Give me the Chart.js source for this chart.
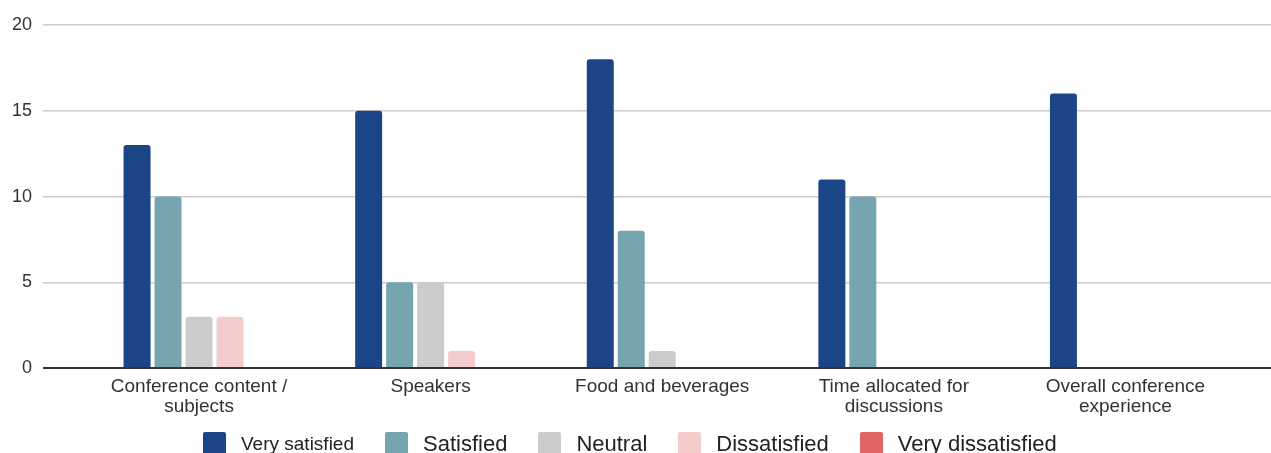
<!DOCTYPE html>
<html>
<head>
<meta charset="utf-8">
<script src="https://cdn.jsdelivr.net/npm/chart.js@4.4.1/dist/chart.umd.min.js"></script>
<style>
  html, body { margin: 0; padding: 0; background: #fff; }
  #wrap { position: relative; width: 1271px; height: 453px; overflow: hidden; }
  #legend { position: absolute; left: 203px; top: 432px; display: flex; align-items: center; height: 23px;
            font-family: "Liberation Sans", Arial, sans-serif; color: #222; white-space: nowrap; }
  .item { display: flex; align-items: center; margin-right: 31px; }
  .box { width: 23px; height: 23px; border-radius: 2px; margin-right: 15px; }
</style>
</head>
<body>
<div id="wrap">
  <canvas id="c"></canvas>
  <div id="legend"></div>
</div>
<script>
const categories = [
  ["Conference content /", "subjects"],
  ["Speakers"],
  ["Food and beverages"],
  ["Time allocated for", "discussions"],
  ["Overall conference", "experience"]
];
const seriesNames = ["Very satisfied", "Satisfied", "Neutral", "Dissatisfied", "Very dissatisfied"];
const verySatisfied    = [13, 15, 18, 11, 16];
const satisfied        = [10, 5, 8, 10, 0];
const neutral          = [3, 5, 1, 0, 0];
const dissatisfied     = [3, 1, 0, 0, 0];
const veryDissatisfied = [0, 0, 0, 0, 0];
const seriesColors = ["#1c4587", "#76a5af", "#cccccc", "#f4cccc", "#e06666"];
const yTicks = [0, 5, 10, 15, 20];
const legendFontSizes = [19, 22, 22, 22, 22];

const allSeries = [verySatisfied, satisfied, neutral, dissatisfied, veryDissatisfied];

const datasets = allSeries.map((vals, s) => ({
  label: seriesNames[s],
  data: vals.map((v, i) => ({ x: i, y: v })),
  backgroundColor: seriesColors[s],
  borderWidth: 0,
  borderRadius: { topLeft: 3, topRight: 3, bottomLeft: 0, bottomRight: 0 },
  borderSkipped: 'start',
  categoryPercentage: 0.669,
  barPercentage: 0.871
}));

const font = "'Liberation Sans', Arial, sans-serif";

new Chart(document.getElementById('c'), {
  type: 'bar',
  data: { datasets },
  options: {
    responsive: true,
    maintainAspectRatio: false,
    animation: false,
    layout: { padding: { left: 1, right: 0, top: 25, bottom: 27 } },
    plugins: { legend: { display: false }, tooltip: { enabled: false } },
    scales: {
      x: {
        type: 'linear',
        offset: false,
        min: -0.6736,
        max: 4.6286,
        grid: { display: false, drawTicks: false, offset: false },
        border: { display: false },
        afterBuildTicks: (scale) => { scale.ticks = categories.map((_, i) => ({ value: i })); },
        ticks: {
          padding: 9,
          autoSkip: false,
          maxRotation: 0,
          color: '#333',
          font: { family: font, size: 19, lineHeight: 1.05 },
          callback: (v) => categories[v]
        }
      },
      y: {
        min: 0,
        max: 20,
        afterBuildTicks: (scale) => { scale.ticks = yTicks.map(v => ({ value: v })); },
        grid: {
          drawTicks: false,
          color: (ctx) => ctx.tick && ctx.tick.value === 0 ? '#333333' : '#cccccc',
          lineWidth: (ctx) => ctx.tick && ctx.tick.value === 0 ? 2 : 1.5
        },
        border: { display: false },
        ticks: {
          padding: 11,
          color: '#333',
          font: { family: font, size: 18 }
        }
      }
    }
  }
});

const legend = document.getElementById('legend');
seriesNames.forEach((name, i) => {
  const item = document.createElement('div');
  item.className = 'item';
  const box = document.createElement('div');
  box.className = 'box';
  box.style.background = seriesColors[i];
  const txt = document.createElement('span');
  txt.textContent = name;
  txt.style.fontSize = legendFontSizes[i] + 'px';
  item.appendChild(box);
  item.appendChild(txt);
  legend.appendChild(item);
});
</script>
</body>
</html>
